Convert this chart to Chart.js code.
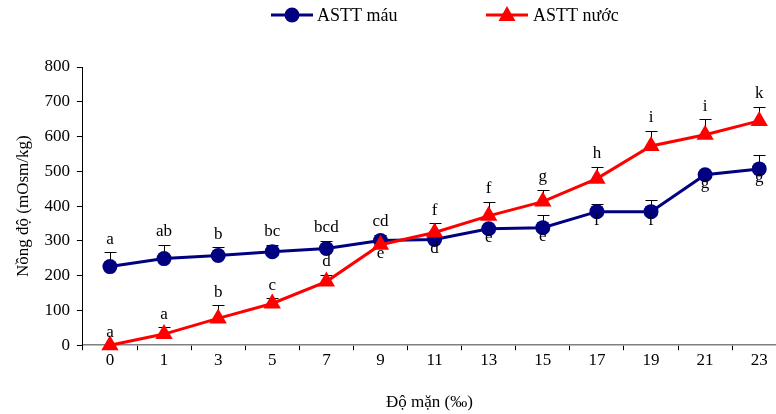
<!DOCTYPE html>
<html lang="vi">
<head>
<meta charset="UTF-8">
<title>ASTT máu / nước</title>
<script src="https://cdn.jsdelivr.net/npm/chart.js"></script>
<style>
html,body{margin:0;padding:0;background:#fff;overflow:hidden;}
canvas{display:block;}
</style>
</head>
<body>
<canvas id="chart" width="776" height="414"></canvas>
<script>
// Độ mặn (‰)
const doMan = ['0','1','3','5','7','9','11','13','15','17','19','21','23'];

// ASTT máu
const mauValues = [226, 249, 258, 269, 278, 301, 304, 335, 338, 384, 384, 490, 507];
const mauErr    = [41, 40, 23, 20, 22, 17, 23, 8, 37, 23, 34, 8, 40];
const mauLetters = ['a','ab','b','bc','bcd','cd','d','e','e','f','f','g','g'];
const mauSide    = ['up','up','up','up','up','up','down','down','down','down','down','down','down'];

// ASTT nước
const nuocValues = [0, 32, 77, 120, 183, 289, 324, 372, 413, 479, 573, 605, 645];
const nuocErr    = [0, 20, 38, 15, 20, 5, 26, 41, 34, 34, 43, 45, 40];
const nuocLetters = ['a','a','b','c','d','e','f','f','g','h','i','i','k'];
const nuocSide    = ['up','up','up','up','up','down','up','up','up','up','up','up','up'];

const FONT = 'Liberation Serif, Times New Roman, serif';
const BLUE = '#000080';
const RED = '#ff0000';
const X_MAX = 12.31;

const series = [
  {vals: mauValues, errs: mauErr, letters: mauLetters, side: mauSide},
  {vals: nuocValues, errs: nuocErr, letters: nuocLetters, side: nuocSide}
];

const annotations = {
  id: 'annotations',
  beforeDatasetsDraw(chart){
    const {ctx, scales:{x, y}} = chart;
    ctx.save();
    ctx.strokeStyle = '#000'; ctx.lineWidth = 1;
    series.forEach(s => {
      s.vals.forEach((v, i) => {
        if (!s.errs[i]) return;
        const px = Math.round(x.getPixelForValue(i)) + 0.5;
        const p0 = y.getPixelForValue(v);
        const p1 = Math.round(y.getPixelForValue(v + s.errs[i])) + 0.5;
        ctx.beginPath();
        ctx.moveTo(px, p0); ctx.lineTo(px, p1);
        ctx.moveTo(px - 6, p1); ctx.lineTo(px + 6, p1);
        ctx.stroke();
      });
    });
    ctx.restore();
  },
  afterDatasetsDraw(chart){
    const {ctx, scales:{x, y}} = chart;
    ctx.save();
    ctx.fillStyle = '#000';
    ctx.font = '17px ' + FONT;
    ctx.textAlign = 'center';
    ctx.textBaseline = 'middle';
    series.forEach(s => {
      s.vals.forEach((v, i) => {
        const px = x.getPixelForValue(i);
        let py;
        if (s.side[i] === 'up') py = y.getPixelForValue(v + s.errs[i]) - 13;
        else py = y.getPixelForValue(v) + 9;
        ctx.fillText(s.letters[i], px, py);
      });
    });
    ctx.restore();
  },
  afterDraw(chart){
    // chú thích
    const {ctx} = chart;
    ctx.save();
    ctx.lineWidth = 3;
    ctx.strokeStyle = BLUE;
    ctx.beginPath(); ctx.moveTo(271, 15); ctx.lineTo(313, 15); ctx.stroke();
    ctx.fillStyle = BLUE;
    ctx.beginPath(); ctx.arc(292, 15, 7.5, 0, Math.PI*2); ctx.fill();
    ctx.strokeStyle = RED;
    ctx.beginPath(); ctx.moveTo(486, 15); ctx.lineTo(528, 15); ctx.stroke();
    ctx.fillStyle = RED;
    ctx.beginPath(); ctx.moveTo(507, 6); ctx.lineTo(515.5, 21); ctx.lineTo(498.5, 21); ctx.closePath(); ctx.fill();
    ctx.fillStyle = '#000';
    ctx.font = '18px ' + FONT;
    ctx.textBaseline = 'middle';
    ctx.fillText('ASTT máu', 317, 16);
    ctx.fillText('ASTT nước', 533, 16);
    ctx.restore();
  }
};

new Chart(document.getElementById('chart'), {
  type: 'line',
  data: {
    datasets: [
      {
        label: 'ASTT máu',
        data: mauValues.map((v, i) => ({x: i, y: v})),
        borderColor: BLUE, backgroundColor: BLUE,
        borderWidth: 3, pointStyle: 'circle', pointRadius: 7.5,
        pointBorderWidth: 0, tension: 0, clip: false, order: 2
      },
      {
        label: 'ASTT nước',
        data: nuocValues.map((v, i) => ({x: i, y: v})),
        borderColor: RED, backgroundColor: RED,
        borderWidth: 3, pointStyle: 'triangle', pointRadius: 10,
        pointBorderWidth: 0, tension: 0, clip: false, order: 1
      }
    ]
  },
  options: {
    responsive: false,
    animation: false,
    layout: {autoPadding: false, padding: {top: 67, right: 0, left: 9, bottom: 0}},
    plugins: {legend: {display: false}, tooltip: {enabled: false}},
    scales: {
      x: {
        type: 'linear', min: -0.5, max: X_MAX,
        afterBuildTicks(scale){
          const t = [];
          for (let v = -0.5; v <= 12; v += 0.5) t.push({value: v});
          t.push({value: X_MAX});
          scale.ticks = t;
        },
        ticks: {
          autoSkip: false, maxRotation: 0, padding: 0,
          color: '#000', font: {family: FONT, size: 17},
          callback: v => Number.isInteger(v) ? doMan[v] : ''
        },
        grid: {
          drawOnChartArea: false, tickLength: 5,
          color: c => {
            const v = c.tick ? c.tick.value : 0;
            return (Number.isInteger(v) || v === X_MAX) ? 'rgba(0,0,0,0)' : '#000';
          }
        },
        border: {color: '#808080', width: 1.5},
        title: {
          display: true, text: 'Độ mặn (‰)', color: '#000',
          font: {family: FONT, size: 17}, padding: {top: 22, bottom: 1}
        }
      },
      y: {
        min: 0, max: 800,
        ticks: {stepSize: 100, padding: 7, color: '#000', font: {family: FONT, size: 17}},
        grid: {drawOnChartArea: false, tickLength: 6, color: '#000'},
        border: {color: '#000', width: 1},
        title: {
          display: true, text: 'Nồng độ (mOsm/kg)', color: '#000',
          font: {family: FONT, size: 17}, padding: {top: 4, bottom: 4}
        }
      }
    }
  },
  plugins: [annotations]
});
</script>
</body>
</html>
